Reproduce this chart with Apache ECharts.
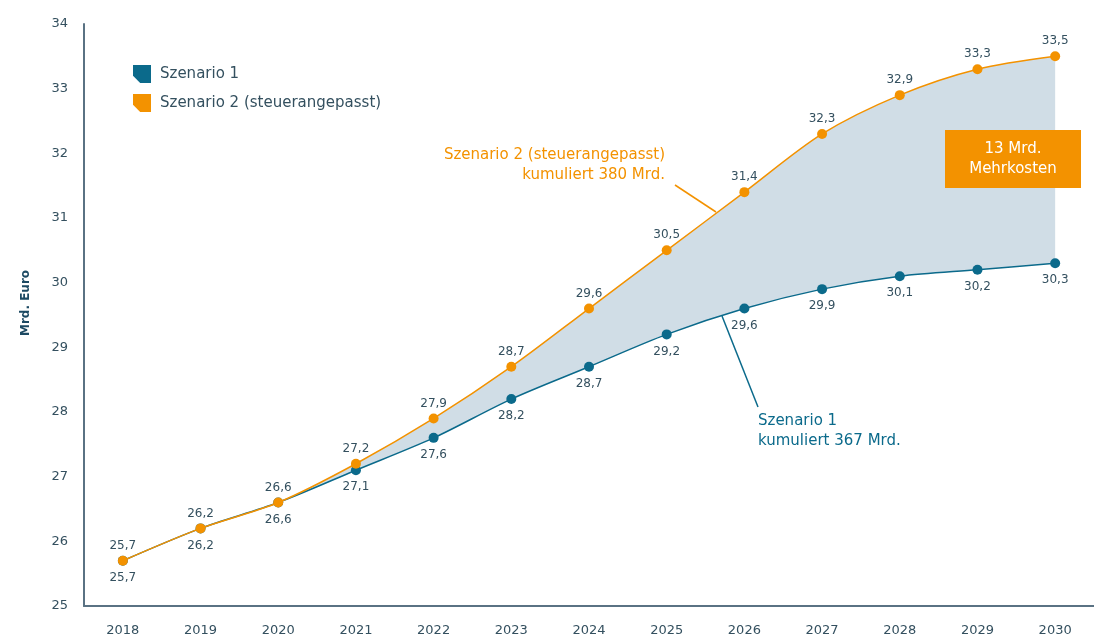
<!DOCTYPE html>
<html>
<head>
<meta charset="utf-8">
<script src="https://cdn.jsdelivr.net/npm/echarts@6/dist/echarts.min.js"></script>
<style>
  html, body { margin: 0; padding: 0; background: #fff; }
  #main { width: 1094px; height: 637px; }
</style>
</head>
<body>
<div id="main"></div>
<script>
var years = ['2018','2019','2020','2021','2022','2023','2024','2025','2026','2027','2028','2029','2030'];
var szenario1 = [25.7, 26.2, 26.6, 27.1, 27.6, 28.2, 28.7, 29.2, 29.6, 29.9, 30.1, 30.2, 30.3];
var szenario2 = [25.7, 26.2, 26.6, 27.2, 27.9, 28.7, 29.6, 30.5, 31.4, 32.3, 32.9, 33.3, 33.5];
var yTicks = [25, 26, 27, 28, 29, 30, 31, 32, 33, 34];

var blue = '#0b6a8b';
var orange = '#f39200';
var dark = '#34505f';
var fnt = '"DejaVu Sans", sans-serif';

// Differenz fuer die Flaeche zwischen den Linien
var diff = szenario2.map(function (v, i) { return +(v - szenario1[i]).toFixed(2); });

var myChart = echarts.init(document.getElementById('main'));

var iconPath = 'path://M0,0 L10,0 L10,10 L4,10 L0,6 Z';

var option = {
    animation: false,
    textStyle: { fontFamily: fnt },
    grid: { left: 84, right: 0, top: 24, bottom: 31 },
    legend: {
        orient: 'vertical',
        left: 128,
        top: 60,
        itemWidth: 18,
        itemHeight: 18,
        itemGap: 11,
        textStyle: { color: dark, fontSize: 15, fontFamily: fnt, padding: [0, 0, 0, 4] },
        data: [
            { name: 'Szenario 1', icon: iconPath, itemStyle: { color: blue } },
            { name: 'Szenario 2 (steuerangepasst)', icon: iconPath, itemStyle: { color: orange } }
        ]
    },
    xAxis: {
        type: 'category',
        data: years,
        boundaryGap: true,
        axisLine: { lineStyle: { color: '#5a7283', width: 2 } },
        axisTick: { show: false },
        axisLabel: { color: dark, fontSize: 13, margin: 18 }
    },
    yAxis: {
        type: 'value',
        min: yTicks[0],
        max: yTicks[yTicks.length - 1],
        interval: 1,
        name: 'Mrd. Euro',
        nameLocation: 'middle',
        nameRotate: 90,
        nameGap: 52,
        nameTextStyle: { color: '#1d4a63', fontSize: 12, fontWeight: 'bold', padding: [0, 0, 0, 24] },
        splitLine: { show: false },
        axisLine: { show: true, lineStyle: { color: '#5a7283', width: 2 } },
        axisTick: { show: false },
        axisLabel: { color: dark, fontSize: 13, margin: 16 }
    },
    series: [
        {
            name: 'base',
            type: 'line',
            stack: 'band',
            data: szenario1,
            smooth: 0.3,
            symbol: 'none',
            lineStyle: { opacity: 0 },
            silent: true,
            z: 1
        },
        {
            name: 'band',
            type: 'line',
            stack: 'band',
            data: diff,
            smooth: 0.3,
            symbol: 'none',
            lineStyle: { opacity: 0 },
            areaStyle: { color: '#d0dde6', opacity: 1 },
            silent: true,
            z: 1
        },
        {
            name: 'Szenario 1',
            type: 'line',
            data: szenario1,
            smooth: 0.3,
            symbol: 'circle',
            symbolSize: 10,
            itemStyle: { color: blue },
            lineStyle: { color: blue, width: 1.5 },
            label: {
                show: true,
                position: 'bottom',
                distance: 6,
                color: dark,
                fontSize: 12,
                formatter: function (p) { return String(p.value).replace('.', ','); }
            },
            z: 3
        },
        {
            name: 'Szenario 2 (steuerangepasst)',
            type: 'line',
            data: szenario2,
            smooth: 0.3,
            symbol: 'circle',
            symbolSize: 10,
            itemStyle: { color: orange },
            lineStyle: { color: orange, width: 1.5 },
            label: {
                show: true,
                position: 'top',
                distance: 4,
                color: dark,
                fontSize: 12,
                formatter: function (p) { return String(p.value).replace('.', ','); }
            },
            z: 4
        }
    ],
    graphic: [
        // Beschriftung Szenario 2
        {
            type: 'text', x: 665, y: 145,
            style: { text: 'Szenario 2 (steuerangepasst)\nkumuliert 380 Mrd.', fill: orange, font: '15px ' + fnt, align: 'right', verticalAlign: 'top', lineHeight: 20 }
        },
        { type: 'line', shape: { x1: 675, y1: 185, x2: 716, y2: 212 }, style: { stroke: orange, lineWidth: 1.5 } },
        // Beschriftung Szenario 1
        {
            type: 'text', x: 758, y: 411,
            style: { text: 'Szenario 1\nkumuliert 367 Mrd.', fill: blue, font: '15px ' + fnt, align: 'left', verticalAlign: 'top', lineHeight: 20 }
        },
        { type: 'line', shape: { x1: 722, y1: 316, x2: 758, y2: 407 }, style: { stroke: blue, lineWidth: 1.5 } },
        // Mehrkosten Box
        { type: 'rect', shape: { x: 945, y: 130, width: 136, height: 58 }, style: { fill: orange }, z: 10 },
        {
            type: 'text', x: 1013, y: 139, z: 11,
            style: { text: '13 Mrd.\nMehrkosten', fill: '#fff', font: '15px ' + fnt, align: 'center', verticalAlign: 'top', lineHeight: 20 }
        }
    ]
};

myChart.setOption(option);
</script>
</body>
</html>
